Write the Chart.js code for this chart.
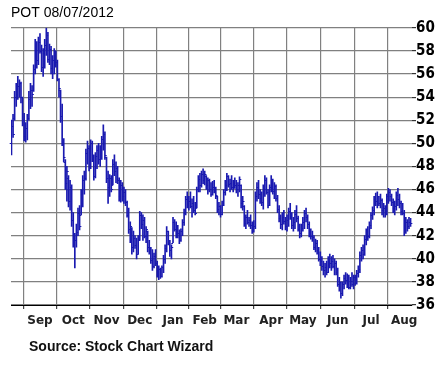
<!DOCTYPE html>
<html><head><meta charset="utf-8">
<script src="https://cdn.jsdelivr.net/npm/chart.js@4.4.1/dist/chart.umd.min.js"></script>
<style>html,body{margin:0;padding:0;background:#fff;}#wrap{width:440px;height:373px;position:relative;}</style>
</head><body><div id="wrap"><canvas id="c" width="440" height="373"></canvas></div>
<script>
// Month tick labels and the trading-day index where each month begins
const monthLabels = ['Sep','Oct','Nov','Dec','Jan','Feb','Mar','Apr','May','Jun','Jul','Aug'];
const monthStarts = [18, 39, 60, 81, 102, 122, 142, 164, 184, 206, 227, 248];

// Daily OHLC (Aug 2011 – Aug 7 2012)
const opens = [
 50.0,51.5,52.2,54.0,54.8,55.0,55.2,54.0,52.0,50.6,51.3,52.2,53.8,54.6,54.6,56.4,58.2,57.2,
 58.8,58.0,56.6,57.8,58.5,59.4,57.3,58.2,56.5,57.2,57.4,57.0,55.6,54.6,52.4,50.2,48.4,46.6,47.0,45.0,46.2,
 43.4,41.8,41.6,42.3,44.0,43.8,45.6,46.8,47.0,49.2,49.6,48.0,50.0,48.8,47.2,48.9,49.4,48.6,49.5,50.4,50.8,
 48.8,47.0,46.2,47.0,46.4,48.2,47.6,47.9,46.8,45.4,46.4,45.4,45.8,44.9,43.8,42.6,42.7,41.0,41.8,41.2,40.4,
 41.6,43.8,43.0,43.4,42.0,42.4,41.0,40.9,39.9,39.4,40.2,39.6,38.6,39.1,38.5,39.3,40.0,40.9,42.4,41.4,40.8,
 41.4,43.2,42.6,42.9,42.2,41.6,42.4,43.2,44.0,45.2,44.8,45.0,44.6,44.8,44.2,44.4,46.0,46.9,46.4,47.3,
 46.8,47.2,46.4,46.8,46.0,45.6,46.2,45.9,45.4,44.3,44.6,43.9,44.7,45.8,46.4,47.2,46.5,46.6,46.2,46.6,
 46.4,46.0,46.4,46.4,44.8,44.6,43.1,43.6,43.2,43.4,42.9,42.5,42.8,45.4,46.2,45.6,45.3,44.9,46.0,46.8,45.8,44.7,
 46.2,46.8,45.9,46.3,45.3,44.3,43.5,43.0,43.6,43.3,42.8,43.4,44.1,43.8,42.9,43.2,43.9,43.5,42.6,42.2,
 42.7,43.2,44.0,43.6,43.0,42.2,42.0,41.9,41.0,41.4,40.8,40.0,39.8,39.4,39.0,39.3,38.9,39.9,39.6,39.8,39.4,39.6,
 38.9,37.8,38.0,37.0,37.8,38.3,38.2,38.5,37.6,38.1,37.8,38.4,37.9,38.8,39.1,40.3,40.8,40.4,41.7,42.4,42.0,
 42.9,43.8,44.2,45.2,45.0,45.4,44.8,45.1,44.2,44.4,43.9,45.4,45.8,45.4,44.9,44.4,44.6,45.5,45.2,44.8,44.1,
 44.0,42.4,43.2,42.8,43.2
];
const highs = [
 52.0,52.5,54.5,55.2,55.8,55.5,55.3,54.0,52.6,51.8,52.5,54.5,55.2,55.0,56.8,59.0,58.8,59.2,
 59.5,58.5,58.2,59.0,60.0,59.6,58.6,58.4,57.6,58.2,58.0,57.2,55.6,54.6,53.4,50.4,48.6,48.0,47.2,46.8,46.4,
 44.0,42.2,43.0,44.4,44.6,46.0,47.2,47.6,49.5,50.2,49.8,50.3,50.2,49.0,49.2,49.8,50.0,49.8,50.6,51.6,51.0,
 48.8,47.6,47.3,47.2,48.6,49.0,48.4,48.0,47.0,46.8,46.6,46.2,46.0,45.0,44.4,43.2,42.7,42.4,42.0,41.8,42.0,
 44.1,44.0,43.8,43.6,42.8,42.4,41.6,41.0,40.8,40.5,40.8,39.8,39.4,39.2,39.4,40.3,41.2,42.8,42.4,41.6,41.2,
 43.6,43.4,43.2,42.9,42.5,42.6,43.4,44.3,45.4,45.8,45.4,45.8,45.2,45.4,44.9,46.2,47.2,47.4,47.6,47.8,
 47.6,47.2,47.0,46.9,46.6,46.7,46.8,46.2,45.4,44.9,44.6,45.0,46.0,46.8,47.4,47.2,46.9,47.2,46.8,47.0,
 46.8,46.6,47.1,46.4,45.4,44.6,43.8,44.2,43.6,43.8,43.2,43.3,45.8,46.6,46.8,46.0,45.8,46.4,47.2,47.0,46.0,46.4,
 47.2,46.9,46.6,46.4,45.5,44.6,43.8,44.0,44.2,43.6,43.8,44.4,44.8,44.0,43.6,44.2,44.6,43.7,43.0,43.0,
 43.6,44.2,44.4,43.8,43.2,42.6,42.4,42.0,41.7,41.6,41.0,40.6,40.2,39.8,39.6,39.8,40.2,40.4,40.2,40.3,40.0,39.8,
 39.2,38.4,38.0,38.0,38.6,38.8,38.7,38.6,38.4,38.8,38.6,38.6,39.0,39.4,40.6,41.0,41.2,42.0,42.6,42.8,43.2,
 44.0,44.5,45.4,45.7,45.8,45.4,45.6,45.2,44.8,44.6,45.6,46.1,46.0,45.6,45.2,45.0,45.8,46.1,45.6,45.0,44.8,
 44.2,43.6,43.4,43.6,43.5
];
const lows = [
 49.0,50.5,52.0,53.2,53.8,54.0,53.5,51.5,50.2,50.1,50.3,52.0,53.0,53.2,54.5,56.0,56.5,56.8,
 57.8,56.2,55.8,56.5,57.6,57.0,56.8,56.0,55.6,56.0,56.6,55.4,54.0,51.8,49.8,48.4,46.0,45.0,44.5,44.2,42.8,
 41.0,39.2,41.0,42.0,42.5,43.8,44.5,45.6,46.8,48.2,47.6,47.8,48.4,46.8,47.0,47.8,48.2,48.0,48.6,49.4,48.6,
 46.6,44.8,45.4,45.8,46.4,47.2,46.6,46.5,45.0,44.9,45.0,44.8,44.6,43.6,42.2,41.4,40.4,40.6,40.9,40.0,40.4,
 41.6,42.6,41.6,41.8,41.4,40.6,40.4,39.6,39.0,39.2,39.4,38.4,38.2,38.3,38.4,38.8,39.6,40.6,41.2,40.2,40.0,
 41.4,42.4,41.8,41.8,41.3,41.5,42.0,42.9,43.8,44.4,44.2,44.4,43.6,44.0,43.8,44.4,45.8,45.8,46.2,46.5,
 46.4,46.0,45.6,45.8,45.4,45.5,45.7,45.2,44.0,43.8,43.6,43.8,44.6,45.5,45.9,46.2,45.8,46.0,45.8,46.1,
 45.7,45.4,45.8,44.4,44.2,42.8,42.6,43.0,42.8,42.6,42.2,42.3,42.6,45.0,45.2,44.8,44.6,44.3,45.4,45.6,44.4,44.6,
 45.8,45.6,45.2,45.0,44.0,43.2,42.6,42.5,43.0,42.5,42.4,42.8,43.4,42.6,42.4,42.6,43.2,42.4,41.8,41.9,
 42.4,42.6,43.2,42.6,41.9,41.7,41.5,40.8,40.6,40.4,39.8,39.4,39.0,38.6,38.4,38.6,38.8,39.2,39.0,39.2,38.6,38.6,
 37.6,37.2,36.6,36.8,37.4,37.8,37.5,37.4,37.4,37.6,37.4,37.7,37.8,38.4,38.8,39.8,40.0,40.3,41.2,41.6,41.8,
 42.6,43.4,43.8,44.6,44.4,44.6,44.4,43.8,43.6,43.6,43.8,44.8,45.0,44.6,44.0,43.8,44.2,44.6,44.4,43.8,43.8,
 42.0,42.2,42.4,42.6,42.8
];
const closes = [
 51.5,50.8,54.0,54.8,55.0,55.2,54.0,52.0,50.6,51.3,52.2,53.8,54.6,54.3,56.4,58.2,57.2,58.8,
 58.0,56.6,57.8,58.5,59.4,57.3,58.2,56.5,57.2,57.4,57.0,55.6,54.8,52.4,50.2,48.8,46.6,47.6,45.0,46.2,43.4,
 41.8,41.6,42.3,44.0,42.8,45.6,46.8,47.0,49.2,49.6,48.0,50.0,48.8,47.2,48.9,49.4,48.6,49.5,50.4,50.8,49.0,
 47.0,46.2,47.0,46.0,48.2,47.6,47.9,46.8,45.4,46.4,45.4,45.8,44.9,43.8,42.6,42.8,41.0,41.8,41.2,40.4,41.6,
 43.8,43.0,43.4,42.0,42.6,41.0,40.9,39.9,39.4,40.2,39.6,38.6,39.1,38.5,39.3,40.0,40.9,42.4,41.4,40.8,41.0,
 43.2,42.6,42.9,42.2,41.6,42.4,43.2,44.0,45.2,44.8,45.0,44.6,44.8,44.2,44.0,46.0,46.9,46.4,47.3,46.8,
 47.3,46.4,46.8,46.0,45.6,46.2,45.9,45.5,44.3,44.6,43.9,44.7,45.8,46.4,47.2,46.5,46.6,46.2,46.6,46.4,
 46.0,46.4,46.9,44.8,45.0,43.1,43.6,43.2,43.4,42.9,42.5,42.8,45.4,46.2,45.6,45.3,44.9,46.0,46.8,45.8,44.7,46.2,
 46.8,45.9,46.3,45.3,44.3,43.5,43.0,43.6,43.3,42.8,43.4,44.1,43.8,42.9,43.2,43.9,43.5,42.6,42.2,42.7,
 43.2,44.0,43.6,43.0,42.2,42.0,41.9,41.0,41.4,40.8,40.0,39.8,39.4,39.0,39.3,38.9,39.9,39.6,39.8,39.4,39.6,38.9,
 37.8,38.0,37.0,37.8,38.3,38.2,38.5,37.6,38.1,37.8,38.4,37.9,38.8,39.1,40.3,40.8,40.4,41.7,42.4,42.0,42.9,
 43.8,44.2,45.2,45.0,45.4,44.8,45.1,44.2,44.4,43.9,45.4,45.8,45.4,44.9,44.4,44.6,45.5,45.2,44.8,44.1,44.0,
 42.4,43.2,42.8,43.2,43.1
];

const BAR = '#1a1ab0';

const ohlcTicks = {
  id: 'ohlcTicks',
  afterDatasetsDraw(chart) {
    const {ctx, scales: {x, y}} = chart;
    ctx.save();
    ctx.strokeStyle = BAR;
    ctx.lineWidth = 1;
    ctx.beginPath();
    for (let i = 0; i < closes.length; i++) {
      const px = x.getPixelForValue(i);
      const yo = Math.round(y.getPixelForValue(opens[i])) + 0.5;
      const yc = Math.round(y.getPixelForValue(closes[i])) + 0.5;
      ctx.moveTo(px - 1.8, yo); ctx.lineTo(px, yo);
      ctx.moveTo(px, yc); ctx.lineTo(px + 1.8, yc);
    }
    ctx.stroke();
    ctx.restore();
  }
};

const sourceText = {
  id: 'sourceText',
  afterDraw(chart) {
    const ctx = chart.ctx;
    ctx.save();
    ctx.fillStyle = '#111';
    ctx.font = 'bold 14px "Liberation Sans", Arial, sans-serif';
    ctx.textBaseline = 'alphabetic';
    ctx.textAlign = 'left';
    ctx.fillText('Source: Stock Chart Wizard', 29, 351);
    ctx.restore();
  }
};

new Chart(document.getElementById('c'), {
  type: 'bar',
  data: {
    datasets: [{
      data: highs.map((h, i) => ({x: i, y: [lows[i], h]})),
      backgroundColor: BAR,
      borderWidth: 0,
      barThickness: 1,
      grouped: false
    }]
  },
  options: {
    responsive: false,
    animation: false,
    devicePixelRatio: 1,
    layout: {padding: {left: 11, right: 0, top: 0, bottom: 0}},
    plugins: {
      legend: {display: false},
      tooltip: {enabled: false},
      title: {
        display: true,
        text: 'POT 08/07/2012',
        align: 'start',
        color: '#000',
        font: {family: '"Liberation Sans", Arial, sans-serif', size: 14, weight: 'normal'},
        padding: {top: 5, bottom: 6}
      }
    },
    scales: {
      x: {
        type: 'linear',
        min: -0.3,
        max: 252.9,
        offset: false,
        afterBuildTicks: (s) => { s.ticks = monthStarts.map(v => ({value: v})); },
        afterFit: (s) => { s.height = 68; },
        ticks: {
          autoSkip: false,
          maxRotation: 0,
          padding: 5,
          color: '#222',
          font: {family: '"DejaVu Sans", Verdana, sans-serif', size: 12, weight: 'bold'},
          callback: (v, i) => monthLabels[i]
        },
        grid: {color: '#808080', lineWidth: 1.2, drawTicks: true, tickLength: 4, tickColor: '#444'},
        border: {display: true, color: '#000', width: 1}
      },
      y: {
        position: 'right',
        min: 36,
        max: 60,
        afterFit: (s) => { s.width = 28; },
        ticks: {
          stepSize: 2,
          padding: 0,
          color: '#000',
          font: {family: '"Liberation Sans Narrow", "DejaVu Sans Condensed", sans-serif', size: 15, weight: 'bold'}
        },
        grid: {color: '#808080', lineWidth: 1.2, drawTicks: true, tickLength: 4, tickColor: '#333'},
        border: {display: false}
      }
    }
  },
  plugins: [ohlcTicks, sourceText]
});
</script>
</body></html>
